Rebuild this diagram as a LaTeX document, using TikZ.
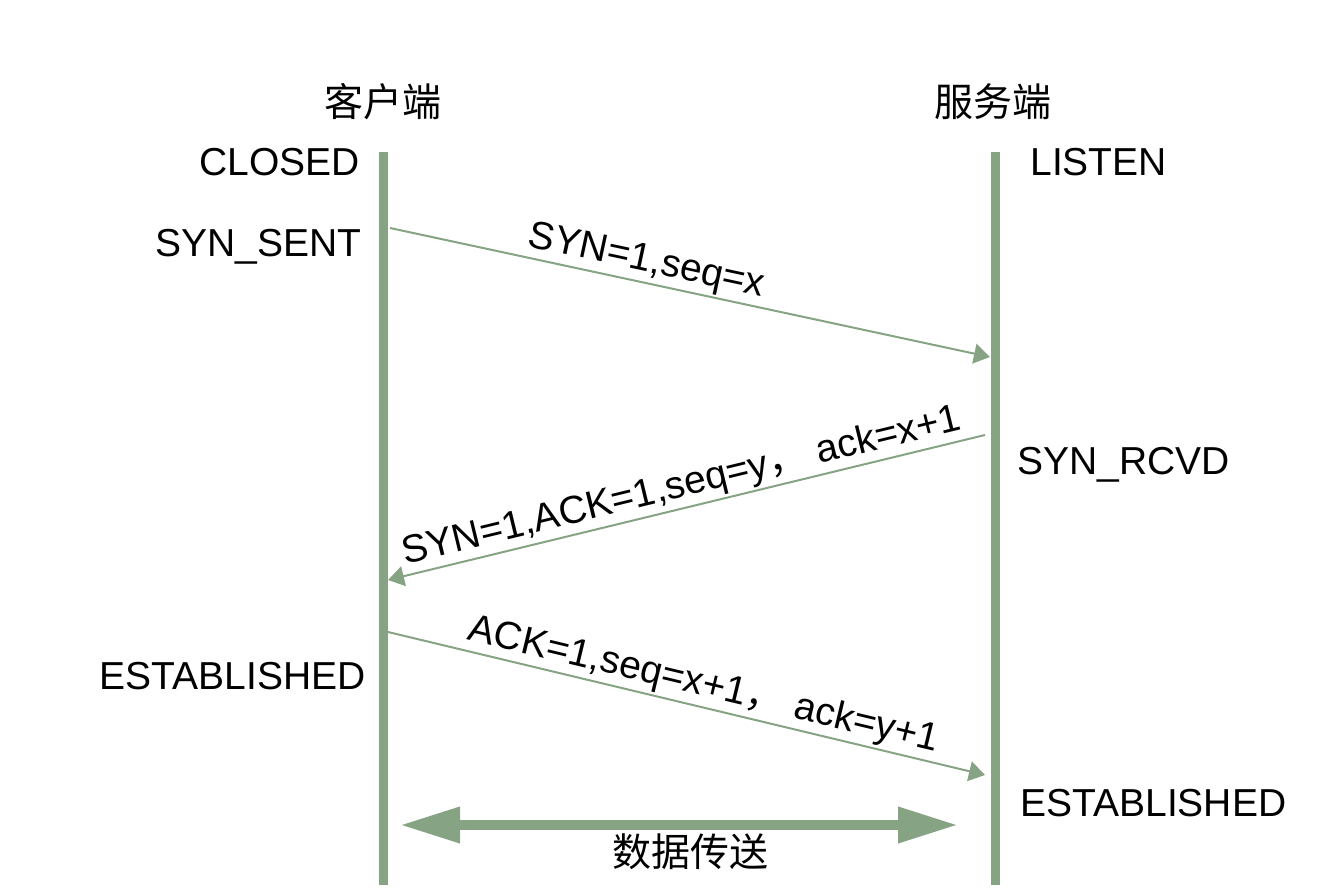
\documentclass[tikz,border=0pt]{standalone}
\usepackage{fontspec}
\setmainfont{Liberation Sans}
\newfontfamily\cjk{Noto Sans CJK SC}
\usetikzlibrary{arrows.meta}
\definecolor{lifegreen}{RGB}{134,164,131}
\tikzset{
    lifeline/.style={
        draw=lifegreen,
        line width=4.5pt
    },
    msgline/.style={
        draw=lifegreen,
        line width=1pt,
        -{Triangle[length=8pt,width=10pt]}
    },
    dataline/.style={
        draw=lifegreen,
        line width=5pt,
        {Triangle[length=30pt,width=17pt]}-{Triangle[length=30pt,width=17pt]}
    },
    statelabel/.style={
        font=\fontsize{19.5}{23}\selectfont,
        inner sep=0pt
    },
    msglabel/.style={
        font=\fontsize{19.5}{23}\selectfont,
        sloped,
        above,
        inner sep=1pt
    }
}

\begin{document}
\begin{tikzpicture}[x=0.5pt, y=-0.5pt]
    \useasboundingbox (0,0) rectangle (1340,894);

    % lifelines
    \coordinate (clienttop) at (383,152);
    \coordinate (clientbot) at (383,885);
    \coordinate (servertop) at (995,152);
    \coordinate (serverbot) at (995,885);
    \draw[lifeline] (clienttop) -- (clientbot);
    \draw[lifeline] (servertop) -- (serverbot);

    % headers and states
    \node[statelabel, font=\fontsize{19.5}{23}\selectfont\cjk] (client) at (383,102) {客户端};
    \node[statelabel, font=\fontsize{19.5}{23}\selectfont\cjk] (server) at (993,102) {服务端};
    \node[statelabel, anchor=east] (closed) at (360,162) {CLOSED};
    \node[statelabel, anchor=west] (listen) at (1030,162) {LISTEN};
    \node[statelabel, anchor=east] (synsent) at (362,247) {SYN\_SENT};
    \node[statelabel, anchor=west] (synrcvd) at (1017,465) {SYN\_RCVD};
    \node[statelabel, anchor=east] (estclient) at (366,676) {ESTABLISHED};
    \node[statelabel, anchor=west] (estserver) at (1020,803) {ESTABLISHED};

    % message end points
    \coordinate (syn1) at (390,228);
    \coordinate (syn2) at (990,357);
    \coordinate (synack1) at (985,435);
    \coordinate (synack2) at (388,580);
    \coordinate (ack1) at (388,632);
    \coordinate (ack2) at (985,775);
    \coordinate (dataleft) at (400,825);
    \coordinate (dataright) at (958,825);

    \draw[msgline] (syn1) -- node[msglabel, pos=0.42] {SYN=1,seq=x} (syn2);
    \draw[msgline] (synack1) -- node[msglabel] {SYN=1,ACK=1,seq=y{\cjk ，} ack=x+1} (synack2);
    \draw[msgline] (ack1) -- node[msglabel, pos=0.52] {ACK=1,seq=x+1{\cjk ，} ack=y+1} (ack2);
    \draw[dataline] (dataleft) -- (dataright);
    \node[statelabel, font=\fontsize{19.5}{23}\selectfont\cjk] (transfer) at (690,852) {数据传送};
\end{tikzpicture}
\end{document}
